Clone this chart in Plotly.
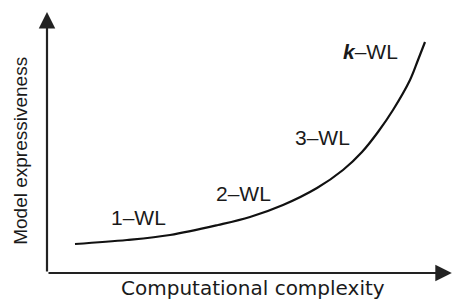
import plotly.graph_objects as go

# Curve: computational complexity vs. model expressiveness (arbitrary units)
complexity = [0.70, 2.00, 3.075, 4.275, 5.075, 5.90, 6.75, 7.40, 7.875, 8.275, 8.65, 9.075, 9.275, 9.45]
expressiveness = [1.16, 1.32, 1.52, 1.92, 2.24, 2.72, 3.40, 4.12, 4.84, 5.64, 6.52, 7.72, 8.52, 9.24]

# Labels along the curve
label_text = ["1\u2013WL", "2\u2013WL", "3\u2013WL", "<b><i>k</i></b>\u2013WL"]
label_x = [2.28, 4.90, 6.875, 8.075]
label_y = [2.24, 3.20, 5.44, 8.88]

x_title = "Computational complexity"
y_title = "Model expressiveness"

FONT = "Liberation Sans, Arial, Helvetica, sans-serif"
INK = "#1a1a1a"

fig = go.Figure()
fig.add_trace(go.Scatter(
    x=complexity, y=expressiveness, mode="lines",
    line=dict(color="#111111", width=2.2, shape="spline", smoothing=1.0),
    hoverinfo="skip", showlegend=False,
))

for t, lx, ly in zip(label_text, label_x, label_y):
    fig.add_annotation(x=lx, y=ly, text=t, showarrow=False,
                       font=dict(family=FONT, size=21, color=INK),
                       xanchor="center", yanchor="middle")

# Axes drawn as arrows
fig.add_annotation(x=10.12, y=0, ax=0, ay=0, xref="x", yref="y", axref="x", ayref="y",
                   text="", showarrow=True, arrowhead=2, arrowsize=1.5, arrowwidth=2.2,
                   arrowcolor="#222222", standoff=0, startstandoff=0)
fig.add_annotation(x=0, y=10.44, ax=0, ay=0, xref="x", yref="y", axref="x", ayref="y",
                   text="", showarrow=True, arrowhead=2, arrowsize=1.5, arrowwidth=2.2,
                   arrowcolor="#222222", standoff=0, startstandoff=0)

# Axis titles
fig.add_annotation(x=5.15, y=-1.12, text=x_title, showarrow=False,
                   font=dict(family="DejaVu Sans, Liberation Sans, sans-serif", size=20, color=INK),
                   xanchor="center", yanchor="bottom", borderpad=0)
fig.add_annotation(x=-0.68, y=4.88, text=y_title, showarrow=False, textangle=-90,
                   font=dict(family=FONT, size=19, color=INK),
                   xanchor="center", yanchor="middle")

fig.update_layout(
    width=453, height=302,
    margin=dict(l=0, r=0, t=0, b=0),
    paper_bgcolor="white", plot_bgcolor="white",
    xaxis=dict(range=[-47/40, (453-47)/40], visible=False, fixedrange=True),
    yaxis=dict(range=[-(302-273)/25, 273/25], visible=False, fixedrange=True),
)

fig.write_html("out.html", config={"displayModeBar": False},
               post_script="document.body.style.margin='0px';document.body.style.overflow='hidden';")
